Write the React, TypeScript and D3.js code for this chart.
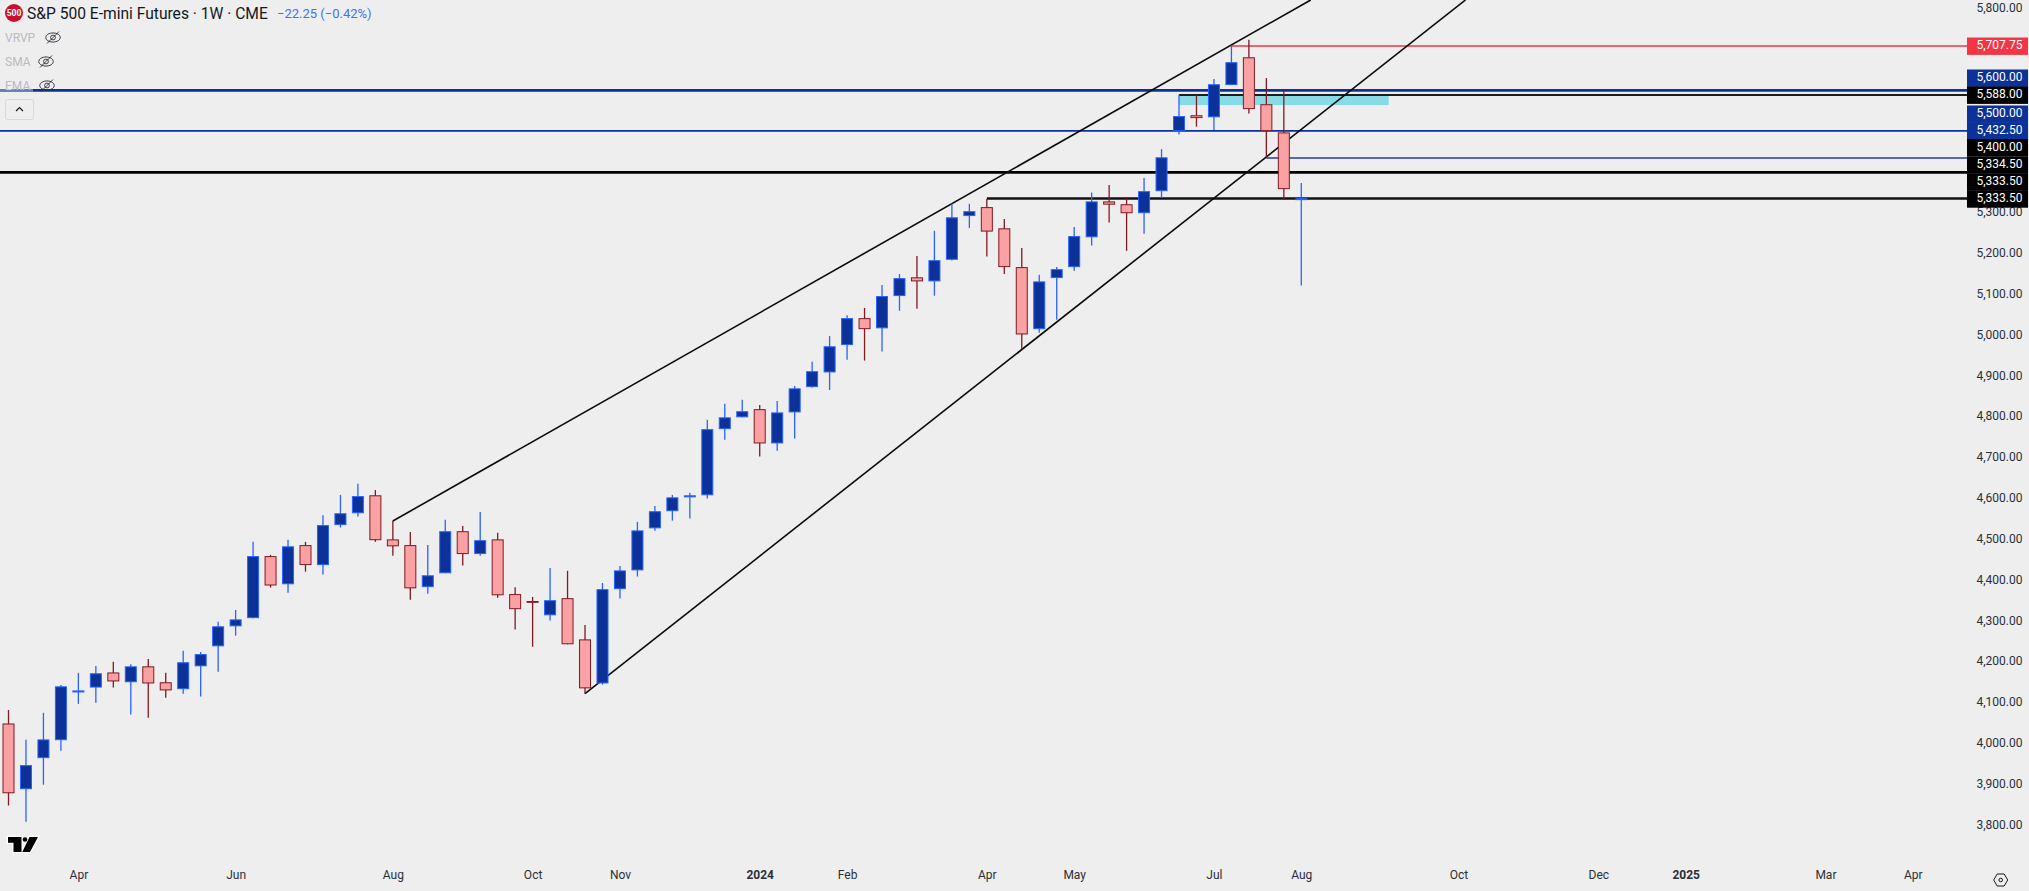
import * as d3 from 'd3';
import { useEffect, useRef } from 'react';

const width = 2029;
const height = 891;

// weekly bars
const opens = [
  4047, 3886, 3962, 4006, 4123, 4135, 4172, 4148, 4187, 4148, 4131, 4187, 4236, 4285, 4305, 4457, 4388, 4484, 4435,
  4533, 4562, 4606, 4498, 4484, 4381, 4415, 4518, 4462, 4498, 4364, 4347, 4312, 4354, 4253, 4145, 4376, 4422, 4525,
  4567, 4601, 4606, 4768, 4797, 4817, 4733, 4809, 4871, 4907, 4974, 5040, 5015, 5094, 5140, 5130, 5183, 5290, 5312,
  5260, 5165, 5013, 5138, 5165, 5238, 5326, 5319, 5297, 5351, 5498, 5537, 5532, 5611, 5679, 5564, 5495, 5329,
];
const highs = [
  4080, 4007, 4073, 4141, 4171, 4188, 4198, 4192, 4205, 4171, 4225, 4222, 4296, 4325, 4492, 4460, 4497, 4492, 4557,
  4607, 4634, 4619, 4543, 4516, 4484, 4546, 4531, 4565, 4514, 4381, 4357, 4428, 4421, 4288, 4391, 4433, 4541, 4580,
  4607, 4612, 4791, 4830, 4840, 4827, 4837, 4874, 4933, 4996, 5047, 5065, 5121, 5148, 5192, 5254, 5321, 5320, 5332,
  5283, 5212, 5146, 5165, 5263, 5348, 5366, 5336, 5383, 5454, 5587, 5587, 5626, 5708, 5722, 5628, 5599, 5371,
];
const lows = [
  3846, 3806, 3897, 3980, 4095, 4098, 4135, 4069, 4061, 4110, 4120, 4113, 4174, 4262, 4305, 4380, 4367, 4419, 4412,
  4527, 4554, 4492, 4458, 4350, 4365, 4415, 4434, 4458, 4355, 4277, 4235, 4299, 4241, 4120, 4142, 4353, 4407, 4519,
  4544, 4549, 4598, 4742, 4797, 4701, 4715, 4745, 4870, 4864, 4938, 4936, 4958, 5058, 5063, 5095, 5181, 5261, 5191,
  5148, 4964, 5004, 5036, 5156, 5218, 5274, 5205, 5247, 5335, 5490, 5509, 5501, 5611, 5541, 5434, 5330, 5120,
];
const closes = [
  3876, 3945, 4008, 4138, 4128, 4170, 4150, 4187, 4145, 4128, 4197, 4217, 4285, 4302, 4457, 4385, 4481, 4435, 4533,
  4562, 4604, 4496, 4481, 4378, 4410, 4518, 4462, 4496, 4361, 4327, 4343, 4349, 4241, 4133, 4376, 4422, 4520, 4567,
  4601, 4606, 4768, 4797, 4812, 4733, 4809, 4868, 4910, 4971, 5040, 5013, 5094, 5138, 5130, 5182, 5287, 5302, 5252,
  5165, 5000, 5130, 5160, 5241, 5326, 5318, 5297, 5351, 5434, 5535, 5530, 5613, 5667, 5552, 5498, 5356, 5334,
];

// 5,400 to 5,700 are hidden under the tags in the reference
const priceTicks = [3800, 3900, 4000, 4100, 4200, 4300, 4400, 4500, 4600, 4700, 4800, 4900, 5000, 5100, 5200, 5300, 5800];

// bar index of each month label on the time axis
const timeTickBars = [4, 13, 22, 30, 35, 43, 48, 56, 61, 69, 74, 83, 91, 96, 104, 109];
const timeTickLabels = ['Apr', 'Jun', 'Aug', 'Oct', 'Nov', '2024', 'Feb', 'Apr', 'May', 'Jul', 'Aug', 'Oct', 'Dec', '2025', 'Mar', 'Apr'];
const boldTimeLabels = ['2024', '2025'];

// horizontal levels: [price, first bar, colour, stroke width]
const levels: [number, number, string, number][] = [
  [5706.5, 70, '#f23645', 1.4],
  [5598, -1, '#0c3299', 2.6],
  [5586.5, 67, '#1c1c1c', 2],
  [5498.5, -1, '#0c3299', 1.8],
  [5432, 72, '#1e40a0', 1.5],
  [5397, -1, '#000000', 2.8],
  [5333, 56, '#111111', 2.4],
];

// trend lines: [bar, price, bar, price]
const trendLines = [
  [22, 4543, 74.54, 5819.5],
  [33, 4120, 83.4, 5819.5],
];

const zoneBars = [67, 79];
const zonePrices = [5585, 5562];

const tagLabels = ['5,707.75', '5,600.00', '5,588.00', '5,500.00', '5,432.50', '5,400.00', '5,334.50', '5,333.50', '5,333.50'];
const tagColors = ['#f23645', '#0c3299', '#000000', '#0c3299', '#0c3299', '#000000', '#000000', '#000000', '#000000'];

const legendItems = ['VRVP', 'SMA', 'EMA'];

const FONT = 'Roboto, "Noto Sans", Arial, sans-serif';
const UP_BODY = '#0c3299';
const UP_LINE = '#2962ff';
const DOWN_BODY = '#faa1a4';
const DOWN_LINE = '#801922';
const PLOT_RIGHT = 1967;

export default function App() {
  const svgRef = useRef<SVGSVGElement | null>(null);

  useEffect(() => {
    const svg = d3.select(svgRef.current);
    svg.selectAll('*').remove();

    const x = d3.scaleLinear().domain([0, 74]).range([8.5, 1301.3]);
    const y = d3.scaleLinear().domain([3800, 5800]).range([824.3, 7.9]);

    svg.append('rect').attr('width', width).attr('height', height).attr('fill', '#eeeeee');

    // drawings sit behind the candles
    svg
      .append('rect')
      .attr('x', x(zoneBars[0]))
      .attr('y', y(zonePrices[0]))
      .attr('width', x(zoneBars[1]) - x(zoneBars[0]))
      .attr('height', y(zonePrices[1]) - y(zonePrices[0]))
      .attr('fill', '#86dbe5');

    // levels and trend lines
    svg
      .append('g')
      .selectAll('line')
      .data(levels)
      .enter()
      .append('line')
      .attr('x1', (d) => (d[1] < 0 ? 0 : x(d[1])))
      .attr('x2', PLOT_RIGHT)
      .attr('y1', (d) => y(d[0]))
      .attr('y2', (d) => y(d[0]))
      .attr('stroke', (d) => d[2])
      .attr('stroke-width', (d) => d[3]);

    svg
      .append('g')
      .selectAll('line')
      .data(trendLines)
      .enter()
      .append('line')
      .attr('x1', (d) => x(d[0]))
      .attr('y1', (d) => y(d[1]))
      .attr('x2', (d) => x(d[2]))
      .attr('y2', (d) => y(d[3]))
      .attr('stroke', '#0a0a0a')
      .attr('stroke-width', 1.6);

    // candles
    const bars = d3.range(opens.length).map((i) => ({
      i,
      open: opens[i],
      high: highs[i],
      low: lows[i],
      close: closes[i],
      up: closes[i] >= opens[i],
    }));

    const candle = svg.append('g').selectAll('g').data(bars).enter().append('g');

    candle
      .append('line')
      .attr('x1', (d) => x(d.i))
      .attr('x2', (d) => x(d.i))
      .attr('y1', (d) => y(d.high))
      .attr('y2', (d) => y(d.low))
      .attr('stroke', (d) => (d.up ? UP_LINE : DOWN_LINE))
      .attr('stroke-width', 1.3);

    candle
      .append('rect')
      .attr('x', (d) => x(d.i) - 5.5)
      .attr('width', 11)
      .attr('y', (d) => y(Math.max(d.open, d.close)) + 0.5)
      .attr('height', (d) => Math.max(0.8, Math.abs(y(d.open) - y(d.close)) - 1))
      .attr('fill', (d) => (d.up ? UP_BODY : DOWN_BODY))
      .attr('stroke', (d) => (d.up ? UP_LINE : DOWN_LINE))
      .attr('stroke-width', 1);

    // price axis
    const priceAxis = svg
      .append('g')
      .attr('transform', `translate(${PLOT_RIGHT},0)`)
      .call(
        d3
          .axisRight(y)
          .tickValues(priceTicks)
          .tickSize(0)
          .tickPadding(9.5)
          .tickFormat((d) => d3.format(',.2f')(d as number)),
      );
    priceAxis.select('.domain').remove();
    priceAxis.selectAll('text').attr('font-family', FONT).attr('font-size', 12).attr('fill', '#2a2e39');

    // tags stacked on the axis, the rows sit 17px apart
    const tagTops = [37.5, 69.5, 86.5, 105.5, 122.3, 139, 156.3, 173.3, 190.3];
    const tag = svg
      .append('g')
      .selectAll('g')
      .data(tagLabels)
      .enter()
      .append('g')
      .attr('transform', (_, i) => `translate(${PLOT_RIGHT},${tagTops[i]})`);
    tag
      .append('rect')
      .attr('width', 61)
      .attr('height', 17.4)
      .attr('fill', (_, i) => tagColors[i]);
    tag
      .append('text')
      .attr('x', 9.5)
      .attr('y', 8.8)
      .attr('dominant-baseline', 'middle')
      .attr('font-family', FONT)
      .attr('font-size', 12)
      .attr('fill', '#ffffff')
      .text((d) => d);

    // time axis
    const timeAxis = svg
      .append('g')
      .attr('transform', 'translate(0,870)')
      .call(
        d3
          .axisBottom(x)
          .tickValues(timeTickBars)
          .tickSize(0)
          .tickPadding(0)
          .tickFormat((_, i) => timeTickLabels[i]),
      );
    timeAxis.select('.domain').remove();
    timeAxis
      .selectAll('text')
      .attr('font-family', FONT)
      .attr('font-size', 12)
      .attr('fill', '#2a2e39')
      .attr('font-weight', (_, i) => (boldTimeLabels.includes(timeTickLabels[i]) ? 700 : 400));

    // settings hexagon next to the axes
    const gear = svg.append('g').attr('transform', 'translate(2000.7,880)');
    gear
      .append('path')
      .attr('d', 'M-7,0 L-3.5,-6 L3.5,-6 L7,0 L3.5,6 L-3.5,6 Z')
      .attr('fill', 'none')
      .attr('stroke', '#131722')
      .attr('stroke-width', 1);
    gear.append('circle').attr('r', 1.8).attr('fill', 'none').attr('stroke', '#131722').attr('stroke-width', 1);

    // symbol header
    svg.append('circle').attr('cx', 14).attr('cy', 13).attr('r', 9).attr('fill', '#c8102e');
    svg
      .append('text')
      .attr('x', 14)
      .attr('y', 16)
      .attr('text-anchor', 'middle')
      .attr('font-family', FONT)
      .attr('font-size', 8.5)
      .attr('font-weight', 700)
      .attr('fill', '#ffffff')
      .text('500');
    svg
      .append('text')
      .attr('x', 27)
      .attr('y', 18.5)
      .attr('font-family', FONT)
      .attr('font-size', 15.6)
      .attr('fill', '#131722')
      .text('S&P 500 E-mini Futures · 1W · CME');
    svg
      .append('text')
      .attr('x', 277)
      .attr('y', 18)
      .attr('font-family', FONT)
      .attr('font-size', 13)
      .attr('fill', '#3f72f6')
      .text('−22.25 (−0.42%)');

    // hidden indicators
    const eyeX = [53, 46, 47];
    const legend = svg
      .append('g')
      .selectAll('g')
      .data(legendItems)
      .enter()
      .append('g')
      .attr('transform', (_, i) => `translate(0,${37.5 + i * 24})`);
    legend
      .append('text')
      .attr('x', 5)
      .attr('y', 4.5)
      .attr('font-family', FONT)
      .attr('font-size', 12)
      .attr('fill', '#b8bbc4')
      .text((d) => d);
    const eye = legend.append('g').attr('transform', (_, i) => `translate(${eyeX[i]},0)`);
    eye
      .append('ellipse')
      .attr('rx', 7.3)
      .attr('ry', 4.6)
      .attr('fill', 'none')
      .attr('stroke', '#2a2e39')
      .attr('stroke-width', 0.9);
    eye.append('circle').attr('r', 2.4).attr('fill', 'none').attr('stroke', '#2a2e39').attr('stroke-width', 0.9);
    eye
      .append('line')
      .attr('x1', -6)
      .attr('y1', 6)
      .attr('x2', 6)
      .attr('y2', -6)
      .attr('stroke', '#2a2e39')
      .attr('stroke-width', 0.9);

    // the legend veils the level under it
    svg.append('rect').attr('x', 0).attr('y', 89).attr('width', 33).attr('height', 2.6).attr('fill', '#eeeeee').attr('opacity', 0.4);

    // collapse button
    svg
      .append('rect')
      .attr('x', 5.5)
      .attr('y', 99.5)
      .attr('width', 28)
      .attr('height', 20)
      .attr('rx', 2)
      .attr('fill', '#eeeeee')
      .attr('stroke', '#d6d8de');
    svg
      .append('path')
      .attr('d', 'M16,111 L19.5,107.6 L23,111')
      .attr('fill', 'none')
      .attr('stroke', '#131722')
      .attr('stroke-width', 1.2);

    // watermark
    svg
      .append('path')
      .attr('d', 'M8,837 H21.5 V852 H13.5 V842.7 H8 Z M29.5,837 H38 L30,852 H22.3 Z')
      .attr('fill', '#000000')
      .attr('stroke', '#ffffff')
      .attr('stroke-width', 2.6)
      .attr('paint-order', 'stroke');
    svg.append('circle').attr('cx', 25).attr('cy', 839.5).attr('r', 2.3).attr('fill', '#000000');
  }, []);

  return <svg ref={svgRef} width={width} height={height} style={{ position: 'absolute', left: 0, top: 0, display: 'block' }} />;
}
